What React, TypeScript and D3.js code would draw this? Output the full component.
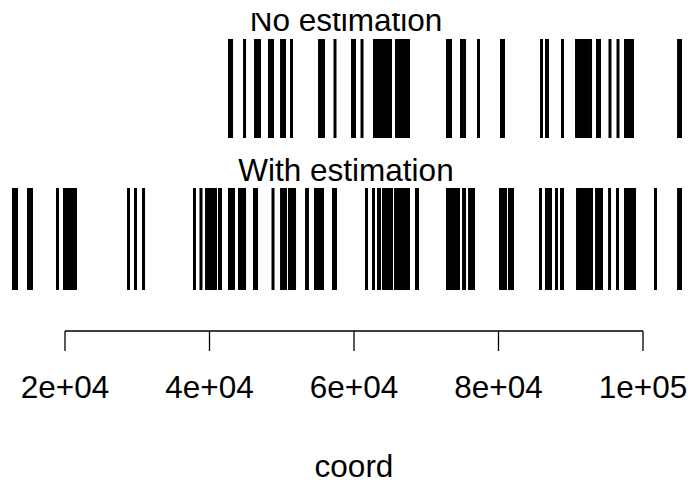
import React from "react";
import * as d3 from "d3";

const axisTicks = [20000, 40000, 60000, 80000, 100000];
const tickLabels = ["2e+04", "4e+04", "6e+04", "8e+04", "1e+05"];
const panelTitles = ["No estimation", "With estimation"];
const axisTitle = "coord";

const noEstimation = [
  42770, 43050, 44850, 46370, 46640, 46920, 48300, 48720, 49970, 50380, 51350,
  55230, 55500, 55780, 57370, 59790, 60070, 61110,
  62840, 63110, 63390, 63740, 64010, 64290, 64570, 64850, 65050,
  65880, 66160, 66440, 66710, 66990, 67270, 67540,
  72940, 73220, 73360, 74880, 75300, 77230, 80420, 80690,
  85950, 86640, 86780, 88860,
  90800, 91070, 91350, 91630, 92040, 92320, 92740,
  93700, 93980, 95430, 96540, 97580, 97860, 98130, 98410, 98550,
  104920, 105190,
];

const withEstimation = [
  12870, 13290, 14950, 15360, 18960,
  19930, 20210, 20480, 20760, 21040, 21450,
  28790, 29760, 30870, 37920, 38820,
  39590, 39860, 40140, 40420, 40690, 40830, 41380, 41520,
  42770, 43050, 43320, 44150, 44430, 44710, 44850, 46230, 46510, 48790,
  49970, 50240, 50520, 51070, 51350, 51630, 51770, 53430, 53560,
  54670, 54950, 55230, 55500, 55640, 57160, 57440,
  61730, 62700, 63390, 63530, 64080, 64360, 64640, 64910, 65190,
  65750, 66020, 66300, 66580, 66850, 67130, 67410, 67540, 68650, 68790,
  72940, 73220, 73500, 73770, 74050, 74330, 74460, 75160, 75300,
  75990, 76270, 76540,
  80280, 80560, 80830, 80970, 81520, 81800, 81940,
  85810, 86640, 86920, 87200, 88030, 88720, 88860,
  90940, 91210, 91490, 91770, 92040, 92320, 92600, 92870,
  93570, 93840, 94120, 94260, 95370, 96470,
  97580, 97860, 98130, 98410, 98690, 98830, 101730, 104920, 105190,
];

const W = 692;
const H = 485;
const FONT = "Liberation Sans, Arial, sans-serif";

export default function App() {
  const x = d3.scaleLinear().domain([20000, 100000]).range([65, 643]);
  const panels = [
    { title: panelTitles[0], data: noEstimation, y0: 39, y1: 138, ty: 31, clip: true },
    { title: panelTitles[1], data: withEstimation, y0: 188, y1: 290, ty: 181, clip: false },
  ];
  const axisY = 331;
  return (
    <svg
      width={W}
      height={H}
      style={{ position: "absolute", left: 0, top: 0, background: "#fff" }}
      fontFamily={FONT}
    >
      <defs>
        <clipPath id="clipTop">
          <rect x={0} y={13} width={W} height={H} />
        </clipPath>
      </defs>
      <rect width={W} height={H} fill="#fff" />
      {panels.map((p, i) => (
        <g key={i}>
          <text
            x={346}
            y={p.ty}
            textAnchor="middle"
            fontSize={31.5}
            clipPath={p.clip ? "url(#clipTop)" : undefined}
          >
            {p.title}
          </text>
          {p.data.map((v, j) => (
            <line
              key={j}
              x1={x(v)}
              x2={x(v)}
              y1={p.y0}
              y2={p.y1}
              stroke="#000"
              strokeWidth={3}
            />
          ))}
        </g>
      ))}
      <line x1={x(20000)} x2={x(100000)} y1={axisY} y2={axisY} stroke="#000" strokeWidth={1.3} />
      {axisTicks.map((t, i) => (
        <g key={t}>
          <line x1={x(t)} x2={x(t)} y1={axisY} y2={axisY + 20} stroke="#000" strokeWidth={1.3} />
          <text x={x(t)} y={398} textAnchor="middle" fontSize={31.5}>
            {tickLabels[i]}
          </text>
        </g>
      ))}
      <text x={354} y={477} textAnchor="middle" fontSize={31.5}>
        {axisTitle}
      </text>
    </svg>
  );
}
